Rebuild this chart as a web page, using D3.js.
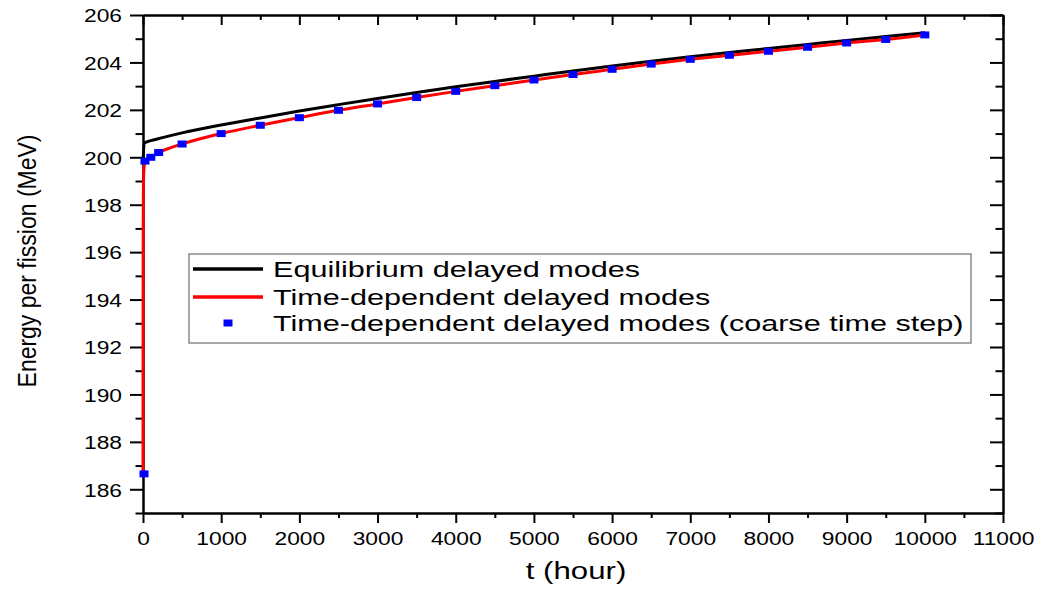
<!DOCTYPE html>
<html>
<head>
<meta charset="utf-8">
<script src="https://cdn.jsdelivr.net/npm/d3@7"></script>
<style>
  body { margin: 0; background: #fff; }
  svg text { font-family: "Liberation Sans", Arial, sans-serif; fill: #000; }
</style>
</head>
<body>
<svg id="chart" width="1041" height="590"></svg>
<script>
// Equilibrium delayed modes
const eqTime   = [0, 15, 100, 250, 500, 1000, 1500, 2000, 2500, 3000, 3500, 4000, 4500, 5000,
                  5500, 6000, 6500, 7000, 7500, 8000, 8500, 9000, 9500, 10000];
const eqEnergy = [199.7, 200.6, 200.7, 200.83, 201.03, 201.36, 201.66, 201.95, 202.22, 202.48,
                  202.73, 202.97, 203.2, 203.42, 203.64, 203.85, 204.05, 204.24, 204.42, 204.59,
                  204.76, 204.93, 205.09, 205.25];

// Time-dependent delayed modes (fine time step)
const tdTime   = [0, 1, 3, 6, 12, 25, 50, 100, 200, 350, 500, 1000, 1500, 2000, 2500, 3000, 3500,
                  4000, 4500, 5000, 5500, 6000, 6500, 7000, 7500, 8000, 8500, 9000, 9500, 10000];
const tdEnergy = [186.65, 193.0, 197.5, 198.9, 199.5, 199.84, 199.93, 200.0, 200.2, 200.4, 200.56,
                  201.0, 201.35, 201.67, 201.98, 202.25, 202.52, 202.78, 203.02, 203.26, 203.49,
                  203.71, 203.93, 204.13, 204.3, 204.47, 204.64, 204.82, 204.97, 205.16];

// Time-dependent delayed modes (coarse time step)
const coarseTime   = [0, 25, 100, 200, 500, 1000, 1500, 2000, 2500, 3000, 3500, 4000, 4500, 5000,
                      5500, 6000, 6500, 7000, 7500, 8000, 8500, 9000, 9500, 10000];
const coarseEnergy = [186.65, 199.84, 200.0, 200.2, 200.56, 201.0, 201.35, 201.67, 201.98, 202.25,
                      202.52, 202.78, 203.02, 203.26, 203.49, 203.71, 203.93, 204.13, 204.3, 204.47,
                      204.64, 204.82, 204.97, 205.16];

const xMajor = d3.range(0, 11001, 1000);
const xMinor = d3.range(500, 11000, 1000);
const yMajor = d3.range(186, 207, 2);
const yMinor = d3.range(185, 206, 2);

const legendLabels = [
  "Equilibrium delayed modes",
  "Time-dependent delayed modes",
  "Time-dependent delayed modes (coarse time step)"
];

const svg = d3.select("#chart");
const plot = { left: 143, right: 1003, top: 15, bottom: 513 };

const x = d3.scaleLinear().domain([0, 11000]).range([plot.left, plot.right]);
const y = d3.scaleLinear().domain([185, 206]).range([plot.bottom, plot.top]);

function styleAxis(g) {
  g.attr("font-family", null).attr("font-size", null);
  g.selectAll("path.domain").attr("stroke", "#000").attr("stroke-width", 2);
  g.selectAll(".tick line").attr("stroke", "#000").attr("stroke-width", 2);
}

// Minor ticks
svg.append("g").attr("transform", `translate(0,${plot.bottom})`)
  .call(d3.axisBottom(x).tickValues(xMinor).tickSize(5).tickFormat("").tickSizeOuter(0)).call(styleAxis);
svg.append("g").attr("transform", `translate(0,${plot.top})`)
  .call(d3.axisTop(x).tickValues(xMinor).tickSize(-5).tickFormat("").tickSizeOuter(0)).call(styleAxis);
svg.append("g").attr("transform", `translate(${plot.left},0)`)
  .call(d3.axisLeft(y).tickValues(yMinor).tickSize(7.5).tickFormat("").tickSizeOuter(0)).call(styleAxis);
svg.append("g").attr("transform", `translate(${plot.right},0)`)
  .call(d3.axisRight(y).tickValues(yMinor).tickSize(-7.5).tickFormat("").tickSizeOuter(0)).call(styleAxis);

// Major ticks and labels
const xAxis = svg.append("g").attr("transform", `translate(0,${plot.bottom})`)
  .call(d3.axisBottom(x).tickValues(xMajor).tickSize(10).tickFormat(d3.format("d")).tickSizeOuter(0))
  .call(styleAxis);
xAxis.selectAll(".tick text")
  .attr("font-size", 19).attr("y", 32).attr("dy", 0)
  .attr("transform", "scale(1.2,1)");

svg.append("g").attr("transform", `translate(0,${plot.top})`)
  .call(d3.axisTop(x).tickValues(xMajor).tickSize(-10).tickFormat("").tickSizeOuter(0)).call(styleAxis);

const yAxis = svg.append("g").attr("transform", `translate(${plot.left},0)`)
  .call(d3.axisLeft(y).tickValues(yMajor).tickSize(13).tickFormat(d3.format("d")).tickSizeOuter(0))
  .call(styleAxis);
yAxis.selectAll(".tick text")
  .attr("font-size", 19).attr("x", -21 / 1.2).attr("dy", "0.36em")
  .attr("transform", "scale(1.2,1)");

svg.append("g").attr("transform", `translate(${plot.right},0)`)
  .call(d3.axisRight(y).tickValues(yMajor).tickSize(-13).tickFormat("").tickSizeOuter(0)).call(styleAxis);

// Series
const lineGen = d3.line().x(d => x(d[0])).y(d => y(d[1])).curve(d3.curveMonotoneX);

svg.append("path")
  .datum(d3.zip(eqTime, eqEnergy))
  .attr("d", lineGen)
  .attr("fill", "none").attr("stroke", "#000").attr("stroke-width", 3)
  .attr("stroke-linejoin", "round");

svg.append("path")
  .datum(d3.zip(tdTime, tdEnergy))
  .attr("d", lineGen)
  .attr("fill", "none").attr("stroke", "#ff0000").attr("stroke-width", 3)
  .attr("stroke-linejoin", "round");

const mw = 9, mh = 7;
svg.append("g").selectAll("rect")
  .data(d3.zip(coarseTime, coarseEnergy))
  .join("rect")
  .attr("x", d => x(d[0]) - mw / 2 + (d[0] === 0 ? 1 : 0))
  .attr("y", d => y(d[1]) - mh / 2)
  .attr("width", mw).attr("height", mh)
  .attr("fill", "#0000ff");

// Axis titles
svg.append("text")
  .attr("transform", "translate(576,579) scale(1.3,1)")
  .attr("text-anchor", "middle")
  .attr("font-size", 24)
  .text("t (hour)");

svg.append("text")
  .attr("transform", "translate(27,261) scale(1.15,1) rotate(-90)")
  .attr("text-anchor", "middle")
  .attr("dominant-baseline", "central")
  .attr("font-size", 23)
  .text("Energy per fission (MeV)");

// Legend
const legend = svg.append("g");
legend.append("rect")
  .attr("x", 189).attr("y", 254).attr("width", 782).attr("height", 89)
  .attr("fill", "#fff").attr("stroke", "#8a8a8a").attr("stroke-width", 1.5);

const rowY = [269, 297, 323];
const rowStyle = [
  { type: "line", color: "#000" },
  { type: "line", color: "#ff0000" },
  { type: "marker", color: "#0000ff" }
];
legendLabels.forEach((label, i) => {
  const s = rowStyle[i];
  if (s.type === "line") {
    legend.append("line")
      .attr("x1", 193).attr("x2", 263).attr("y1", rowY[i]).attr("y2", rowY[i])
      .attr("stroke", s.color).attr("stroke-width", 3.5);
  } else {
    legend.append("rect")
      .attr("x", 228 - mw / 2).attr("y", rowY[i] - mh / 2)
      .attr("width", mw).attr("height", mh).attr("fill", s.color);
  }
  legend.append("text")
    .attr("transform", `translate(273,${rowY[i] + 8}) scale(1.39,1)`)
    .attr("font-size", 22)
    .text(label);
});
</script>
</body>
</html>
